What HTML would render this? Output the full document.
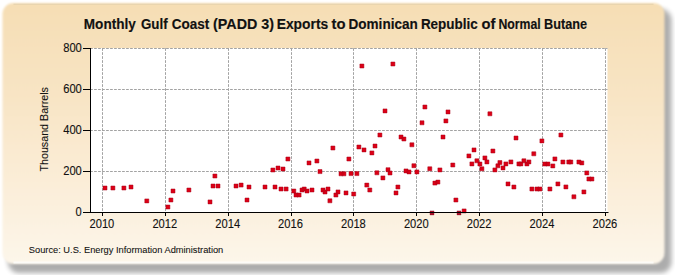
<!DOCTYPE html>
<html><head><meta charset="utf-8"><style>
html,body{margin:0;padding:0;background:#fff;width:675px;height:275px;overflow:hidden}
svg{display:block}
text{font-family:"Liberation Sans",sans-serif}
</style></head><body>
<svg width="675" height="275" viewBox="0 0 675 275">
<defs>
<linearGradient id="bg" gradientUnits="userSpaceOnUse" x1="0" y1="3" x2="0" y2="264">
<stop offset="0" stop-color="#F6DEB4"/>
<stop offset="0.35" stop-color="#F8E4C4"/>
<stop offset="1" stop-color="#FDF6EA"/>
</linearGradient>
<filter id="sh" x="-5%" y="-5%" width="110%" height="115%">
<feGaussianBlur stdDeviation="2.8"/>
</filter>
<filter id="soft2" filterUnits="userSpaceOnUse" x="0" y="0" width="675" height="275">
<feGaussianBlur stdDeviation="1.05"/>
</filter>
<filter id="soft" filterUnits="userSpaceOnUse" x="0" y="0" width="675" height="275">
<feGaussianBlur stdDeviation="0.7"/>
</filter>
</defs>

<rect x="8" y="9" width="663.5" height="264.0" rx="11" fill="#000" opacity="0.32" filter="url(#sh)"/>
<rect x="2.5" y="3" width="662" height="261" rx="11" fill="url(#bg)" filter="url(#soft2)"/>
<path d="M13.5 4.2H653.5" stroke="#8a8660" stroke-opacity="0.13" stroke-width="1.6" filter="url(#soft)"/>
<path d="M13.5 262.5H653.5" stroke="#fff" stroke-opacity="0.7" stroke-width="2" filter="url(#soft)"/>
<rect x="90" y="48" width="517.5" height="164" fill="#fff"/>
<path d="M90 48.5H607.5 M90 89.5H607.5 M90 130.5H607.5 M90 171.5H607.5" stroke="#a2a2a2" stroke-width="1" stroke-dasharray="2.7,1.3" stroke-dashoffset="-0.1" fill="none"/>
<path d="M102.5 48V212 M165.5 48V212 M228.5 48V212 M291.5 48V212 M353.5 48V212 M416.5 48V212 M479.5 48V212 M542.5 48V212 M605.5 48V212" stroke="#a2a2a2" stroke-width="1" stroke-dasharray="2.7,1.3" stroke-dashoffset="-0.2" fill="none"/>
<path d="M83 48.5H90 M83 89.5H90 M83 130.5H90 M83 171.5H90 M83 212.5H90 M102.5 212V216 M165.5 212V216 M228.5 212V216 M291.5 212V216 M353.5 212V216 M416.5 212V216 M479.5 212V216 M542.5 212V216 M605.5 212V216" stroke="#000" stroke-width="1" fill="none"/>
<text x="81.8" y="52.3" font-size="12" text-anchor="end" fill="#111" stroke="#111" stroke-width="0.12" textLength="18.6" lengthAdjust="spacingAndGlyphs">800</text>
<text x="81.8" y="93.3" font-size="12" text-anchor="end" fill="#111" stroke="#111" stroke-width="0.12" textLength="18.6" lengthAdjust="spacingAndGlyphs">600</text>
<text x="81.8" y="134.3" font-size="12" text-anchor="end" fill="#111" stroke="#111" stroke-width="0.12" textLength="18.6" lengthAdjust="spacingAndGlyphs">400</text>
<text x="81.8" y="175.3" font-size="12" text-anchor="end" fill="#111" stroke="#111" stroke-width="0.12" textLength="18.6" lengthAdjust="spacingAndGlyphs">200</text>
<text x="81.8" y="216.3" font-size="12" text-anchor="end" fill="#111" stroke="#111" stroke-width="0.12" textLength="6.2" lengthAdjust="spacingAndGlyphs">0</text>
<text x="101.9" y="227.8" font-size="12" text-anchor="middle" fill="#111" stroke="#111" stroke-width="0.12" textLength="24.8" lengthAdjust="spacingAndGlyphs">2010</text>
<text x="164.8" y="227.8" font-size="12" text-anchor="middle" fill="#111" stroke="#111" stroke-width="0.12" textLength="24.8" lengthAdjust="spacingAndGlyphs">2012</text>
<text x="227.7" y="227.8" font-size="12" text-anchor="middle" fill="#111" stroke="#111" stroke-width="0.12" textLength="24.8" lengthAdjust="spacingAndGlyphs">2014</text>
<text x="290.5" y="227.8" font-size="12" text-anchor="middle" fill="#111" stroke="#111" stroke-width="0.12" textLength="24.8" lengthAdjust="spacingAndGlyphs">2016</text>
<text x="353.4" y="227.8" font-size="12" text-anchor="middle" fill="#111" stroke="#111" stroke-width="0.12" textLength="24.8" lengthAdjust="spacingAndGlyphs">2018</text>
<text x="416.3" y="227.8" font-size="12" text-anchor="middle" fill="#111" stroke="#111" stroke-width="0.12" textLength="24.8" lengthAdjust="spacingAndGlyphs">2020</text>
<text x="479.1" y="227.8" font-size="12" text-anchor="middle" fill="#111" stroke="#111" stroke-width="0.12" textLength="24.8" lengthAdjust="spacingAndGlyphs">2022</text>
<text x="542.0" y="227.8" font-size="12" text-anchor="middle" fill="#111" stroke="#111" stroke-width="0.12" textLength="24.8" lengthAdjust="spacingAndGlyphs">2024</text>
<text x="604.9" y="227.8" font-size="12" text-anchor="middle" fill="#111" stroke="#111" stroke-width="0.12" textLength="24.8" lengthAdjust="spacingAndGlyphs">2026</text>
<text x="83.8" y="28.8" font-size="14" font-weight="bold" fill="#111" stroke="#111" stroke-width="0.15" textLength="52.0" lengthAdjust="spacingAndGlyphs">Monthly</text>
<text x="140.9" y="28.8" font-size="14" font-weight="bold" fill="#111" stroke="#111" stroke-width="0.15" textLength="26.7" lengthAdjust="spacingAndGlyphs">Gulf</text>
<text x="171.7" y="28.8" font-size="14" font-weight="bold" fill="#111" stroke="#111" stroke-width="0.15" textLength="37.5" lengthAdjust="spacingAndGlyphs">Coast</text>
<text x="213.1" y="28.8" font-size="14" font-weight="bold" fill="#111" stroke="#111" stroke-width="0.15" textLength="61.0" lengthAdjust="spacingAndGlyphs">(PADD 3)</text>
<text x="276.7" y="28.8" font-size="14" font-weight="bold" fill="#111" stroke="#111" stroke-width="0.15" textLength="51.5" lengthAdjust="spacingAndGlyphs">Exports</text>
<text x="331.5" y="28.8" font-size="14" font-weight="bold" fill="#111" stroke="#111" stroke-width="0.15" textLength="14.0" lengthAdjust="spacingAndGlyphs">to</text>
<text x="348.5" y="28.8" font-size="14" font-weight="bold" fill="#111" stroke="#111" stroke-width="0.15" textLength="69.3" lengthAdjust="spacingAndGlyphs">Dominican</text>
<text x="420.9" y="28.8" font-size="14" font-weight="bold" fill="#111" stroke="#111" stroke-width="0.15" textLength="56.9" lengthAdjust="spacingAndGlyphs">Republic</text>
<text x="481.6" y="28.8" font-size="14" font-weight="bold" fill="#111" stroke="#111" stroke-width="0.15" textLength="13.9" lengthAdjust="spacingAndGlyphs">of</text>
<text x="498.4" y="28.8" font-size="14" font-weight="bold" fill="#111" stroke="#111" stroke-width="0.15" textLength="42.3" lengthAdjust="spacingAndGlyphs">Normal</text>
<text x="544.0" y="28.8" font-size="14" font-weight="bold" fill="#111" stroke="#111" stroke-width="0.15" textLength="43.0" lengthAdjust="spacingAndGlyphs">Butane</text>
<text transform="translate(48.2,171.5) rotate(-90)" font-size="10.7" fill="#111" stroke="#111" stroke-width="0.1">Thousand Barrels</text>
<text x="28.8" y="253" font-size="9.5" fill="#111" stroke="#111" stroke-width="0.08" textLength="194.5" lengthAdjust="spacingAndGlyphs">Source: U.S. Energy Information Administration</text>
<path d="M103.0 186.0h4v4h-4zM110.9 186.0h4v4h-4zM121.9 186.0h4v4h-4zM129.0 185.0h4v4h-4zM144.8 198.9h4v4h-4zM165.9 205.0h4v4h-4zM168.9 198.0h4v4h-4zM171.0 189.0h4v4h-4zM186.9 188.0h4v4h-4zM208.0 199.9h4v4h-4zM211.0 184.0h4v4h-4zM212.9 174.0h4v4h-4zM216.0 184.0h4v4h-4zM234.0 184.0h4v4h-4zM239.1 183.1h4v4h-4zM245.0 198.0h4v4h-4zM247.0 185.0h4v4h-4zM263.0 185.0h4v4h-4zM270.9 168.0h4v4h-4zM273.0 185.0h4v4h-4zM276.0 166.0h4v4h-4zM279.0 187.0h4v4h-4zM281.0 167.0h4v4h-4zM284.1 187.0h4v4h-4zM285.9 157.0h4v4h-4zM291.8 189.0h4v4h-4zM294.0 193.0h4v4h-4zM297.1 193.0h4v4h-4zM300.0 188.0h4v4h-4zM302.2 187.0h4v4h-4zM305.0 189.0h4v4h-4zM307.0 160.9h4v4h-4zM310.0 188.0h4v4h-4zM314.9 159.0h4v4h-4zM318.0 169.6h4v4h-4zM321.0 188.0h4v4h-4zM323.0 190.0h4v4h-4zM326.0 187.0h4v4h-4zM327.9 198.8h4v4h-4zM330.9 146.0h4v4h-4zM333.9 193.0h4v4h-4zM336.0 189.9h4v4h-4zM339.0 171.8h4v4h-4zM341.9 171.8h4v4h-4zM344.0 190.9h4v4h-4zM346.9 157.0h4v4h-4zM349.0 171.6h4v4h-4zM351.7 192.0h4v4h-4zM354.9 171.6h4v4h-4zM356.9 145.0h4v4h-4zM359.9 64.0h4v4h-4zM362.0 147.9h4v4h-4zM364.8 183.1h4v4h-4zM367.8 188.0h4v4h-4zM369.9 150.9h4v4h-4zM373.0 144.0h4v4h-4zM374.9 170.8h4v4h-4zM377.9 133.0h4v4h-4zM380.9 175.9h4v4h-4zM383.0 108.9h4v4h-4zM386.0 167.7h4v4h-4zM388.0 171.0h4v4h-4zM390.9 62.0h4v4h-4zM394.0 190.9h4v4h-4zM395.9 185.0h4v4h-4zM399.0 135.0h4v4h-4zM401.9 137.0h4v4h-4zM404.0 168.9h4v4h-4zM407.0 169.9h4v4h-4zM409.9 142.8h4v4h-4zM411.9 163.7h4v4h-4zM414.9 169.9h4v4h-4zM420.0 120.8h4v4h-4zM422.9 105.0h4v4h-4zM427.8 166.8h4v4h-4zM432.9 181.1h4v4h-4zM435.9 180.1h4v4h-4zM437.9 167.9h4v4h-4zM441.0 135.0h4v4h-4zM443.9 118.9h4v4h-4zM446.0 109.9h4v4h-4zM450.8 163.0h4v4h-4zM453.9 198.0h4v4h-4zM462.1 208.9h4v4h-4zM466.9 153.9h4v4h-4zM469.9 161.9h4v4h-4zM472.0 147.9h4v4h-4zM474.9 158.8h4v4h-4zM477.9 162.0h4v4h-4zM479.9 166.8h4v4h-4zM482.9 155.9h4v4h-4zM484.9 159.9h4v4h-4zM487.9 111.8h4v4h-4zM490.9 149.0h4v4h-4zM492.9 167.9h4v4h-4zM495.9 163.8h4v4h-4zM497.9 160.6h4v4h-4zM501.0 165.9h4v4h-4zM503.9 161.9h4v4h-4zM506.0 181.9h4v4h-4zM508.9 159.9h4v4h-4zM511.9 185.0h4v4h-4zM514.0 136.0h4v4h-4zM516.9 161.9h4v4h-4zM518.9 161.9h4v4h-4zM521.9 158.8h4v4h-4zM524.9 161.9h4v4h-4zM526.9 159.9h4v4h-4zM529.9 187.0h4v4h-4zM531.8 151.8h4v4h-4zM535.0 187.0h4v4h-4zM537.9 187.0h4v4h-4zM539.9 138.9h4v4h-4zM542.8 162.0h4v4h-4zM545.9 162.0h4v4h-4zM547.9 187.0h4v4h-4zM550.8 163.9h4v4h-4zM552.9 156.9h4v4h-4zM555.9 181.9h4v4h-4zM558.9 133.0h4v4h-4zM560.9 160.0h4v4h-4zM563.9 184.9h4v4h-4zM566.8 160.0h4v4h-4zM568.8 160.0h4v4h-4zM571.9 194.8h4v4h-4zM576.9 160.0h4v4h-4zM579.8 160.9h4v4h-4zM581.9 189.9h4v4h-4zM584.8 170.9h4v4h-4zM586.9 177.0h4v4h-4zM589.9 177.0h4v4h-4z" fill="#DC0016" stroke="#A80018" stroke-width="0.5"/>
<path d="M430.0 210.9h4v4h-4zM457.0 210.9h4v4h-4z" fill="#A8102A" stroke="#901020" stroke-width="0.4"/>
<path d="M90.5 48V212.5M83 212.5H608.5" stroke="#000" stroke-width="1" fill="none"/>
</svg></body></html>
